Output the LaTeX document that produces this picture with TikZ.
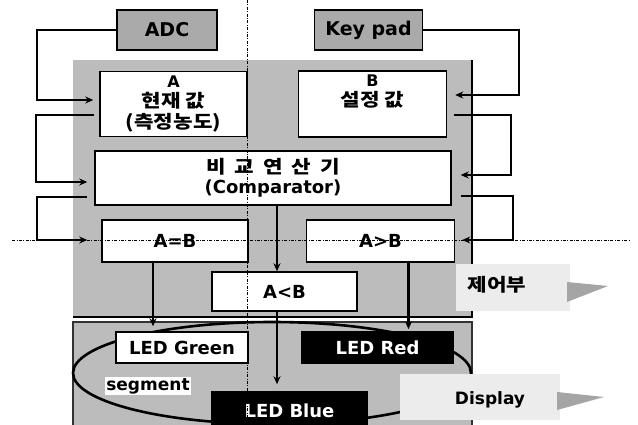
\documentclass[tikz,border=0pt]{standalone}
\usepackage{fontspec}
\setmainfont{DejaVu Sans}
\newfontfamily\kr{Noto Sans CJK KR}[FakeStretch=1.18]
\usetikzlibrary{arrows.meta, positioning, calc}
\definecolor{panelgray}{RGB}{188,188,188}
\definecolor{tabgray}{RGB}{170,170,170}
\definecolor{bannergray}{RGB}{236,236,236}
\definecolor{wedgegray}{RGB}{165,165,165}

\begin{document}
\begin{tikzpicture}[
  x=1pt, y=-1pt,
  unit/.style={rectangle, draw=black, fill=tabgray, line width=1.5pt, inner sep=0pt,
               minimum height=40, font=\fontsize{19}{21}\selectfont\bfseries},
  blk/.style={rectangle, draw=black, fill=white, line width=1.5pt, inner sep=0pt,
              align=center, font=\fontsize{18}{20}\selectfont\bfseries},
  reg/.style={blk, font=\fontsize{18}{20.5}\selectfont\bfseries},
  ledw/.style={blk, minimum width=132, minimum height=31},
  ledb/.style={blk, fill=black, text=white, minimum height=31},
  arrow/.style={-{Stealth[length=8pt, width=7pt]}, line width=2.4pt},
  guide/.style={line width=0.7pt, dash pattern=on 3pt off 1.5pt on 0.8pt off 1.5pt},
  tag/.style={font=\fontsize{17}{19}\selectfont\bfseries}
]
\clip (0,0) rectangle (638,425);
\fill[white] (0,0) rectangle (638,425);

% control and display panels
\fill[panelgray] (73,60) rectangle (472,317);
\draw[line width=1.5pt] (73,317) -- (472,317) -- (472,60);
\filldraw[fill=panelgray, draw=black!80, line width=1.5pt] (73,322) rectangle (472,440);
\draw[line width=2.6pt] (272,373) ellipse [x radius=199pt, y radius=51pt];

% input units
\node[unit, minimum width=100] (adc) at (167,30) {ADC};
\node[unit, minimum width=108, right=96pt of adc] (keypad) {Key pad};

% registers and comparator
\node[reg, minimum width=147, minimum height=65] (curA) at (173.5,104)
  {{\fontsize{16}{16}\selectfont A}\\{\kr 현재\hspace{.3em}값}\\{\kr (측정농도)}};
\node[reg, minimum width=148, minimum height=66, right=50pt of curA] (setB)
  {{\fontsize{16}{16}\selectfont B}\\{\kr 설정\hspace{.3em}값}\\[6pt]};
\node[blk, minimum width=356, minimum height=54] (comp) at (273,178)
  {{\kr\fontsize{18}{20}\selectfont 비\hspace{.5em}교\hspace{.5em}연\hspace{.5em}산\hspace{.5em}기}\\(Comparator)};

% results
\node[blk, minimum width=146, minimum height=42] (aeqb) at (175,241) {A=B};
\node[blk, minimum width=148, minimum height=42, right=57pt of aeqb] (agtb) {A>B};
\node[blk, minimum width=145, minimum height=39] (altb) at (284.5,291.5) {A<B};

% LEDs
\node[ledw] (green) at (182,347.5) {LED Green};
\node[ledb, minimum width=152, right=52pt of green] (red) {LED Red};
\node[ledb, minimum width=155, minimum height=38] (blue) at (289.5,411) {LED Blue};
\node[fill=white, inner sep=1pt, font=\fontsize{17}{19}\selectfont\bfseries] (seg) at (148,386) {segment};

% connectors
\draw[arrow] (adc.west) -- ++(-79,0) |- ($(curA.west)+(-6,-4)$);
\draw[arrow] ($(curA.west)+(-5,11)$) -- ++(-58,0) |- ($(comp.west)+(-7,4)$);
\draw[arrow] ($(comp.west)+(-7,19)$) -- ++(-50,0) |- ($(aeqb.west)+(-14,-1)$);
\draw[arrow] (keypad.east) -- ++(96,0) |- ($(setB.east)+(8,-9)$);
\draw[arrow] ($(setB.east)+(7,11)$) -- ++(57,0) |- ($(comp.east)+(9,-3)$);
\draw[arrow] ($(comp.east)+(9,18)$) -- ++(52,0) |- ($(agtb.east)+(7,-1)$);
\draw[arrow] ($(comp.south)+(4,0)$) -- ($(altb.north)+(-7.5,0)$);
\draw[arrow] ($(aeqb.south)+(-22,0)$) -- ($(green.north)+(-29,-5)$);
\draw[arrow] ($(agtb.south)+(28,0)$) -- ($(red.north)+(31,-2)$);
\draw[arrow] ($(altb.south)+(-7.5,0)$) -- ($(blue.north)+(-12.5,-7)$);

% side banners
\fill[bannergray] (456,264) rectangle (570,311);
\fill[wedgegray] (567,282) -- (608,286) -- (567,302) -- cycle;
\node[tag, font=\kr\fontsize{18}{20}\selectfont\bfseries] (ctrl) at (497,285) {제어부};
\fill[bannergray] (400,374) rectangle (560,420);
\fill[wedgegray] (557,392) -- (604,397) -- (557,410) -- cycle;
\node[tag] (disp) at (490,400) {Display};

% guide lines
\draw[guide] (247,0) -- (247,425);
\draw[guide] (12,240) -- (630,240);
\end{tikzpicture}
\end{document}
